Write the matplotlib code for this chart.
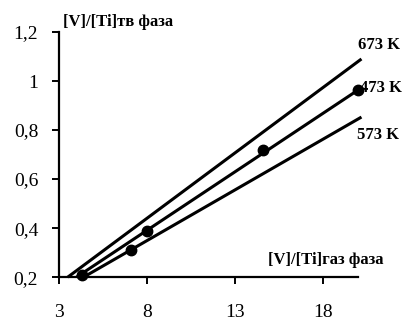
import matplotlib
matplotlib.use("Agg")
import matplotlib.pyplot as plt

# measured points (473 K)
pts_x = [4.3, 7.1, 8.0, 14.6, 20.0]
pts_y = [0.21, 0.31, 0.39, 0.72, 0.963]

# fitted straight lines for each temperature (end points)
line_673_x = [3.5, 20.2]
line_673_y = [0.20, 1.09]
line_473_x = [4.0, 20.0]
line_473_y = [0.20, 0.963]
line_573_x = [4.4, 20.2]
line_573_y = [0.20, 0.853]

labels = ["673 K", "473 K", "573 K"]
label_pos = [(20.0, 1.147), (20.12, 0.971), (19.95, 0.78)]

xticks = [3, 8, 13, 18]
yticks = [0.2, 0.4, 0.6, 0.8, 1.0, 1.2]
ytick_labels = ["0,2", "0,4", "0,6", "0,8", "1", "1,2"]

plt.rcParams["font.family"] = ["Liberation Serif", "DejaVu Serif"]

fig = plt.figure(figsize=(4.04, 3.2), dpi=100)
ax = fig.add_axes([0.146, 0.134, 0.74, 0.766])

for lx, ly in [(line_673_x, line_673_y), (line_473_x, line_473_y), (line_573_x, line_573_y)]:
    ax.plot(lx, ly, color="black", lw=2.2, clip_on=False, solid_capstyle="butt")

ax.plot(pts_x, pts_y, "o", color="black", ms=7.5, clip_on=False)

for t, (x, y) in zip(labels, label_pos):
    ax.text(x, y, t, fontsize=12, fontweight="bold", ha="left", va="center")

ax.set_xlim(3, 20)
ax.set_ylim(0.2, 1.2)
ax.set_xticks(xticks)
ax.set_xticklabels([str(v) for v in xticks])
ax.set_yticks(yticks)
ax.set_yticklabels(ytick_labels)

for s in ["top", "right"]:
    ax.spines[s].set_visible(False)
for s in ["left", "bottom"]:
    ax.spines[s].set_linewidth(1.6)

ax.tick_params(axis="both", direction="out", length=5, width=1.4, labelsize=14)
ax.tick_params(axis="y", pad=10)
ax.tick_params(axis="x", pad=14)

fig.text(0.156, 0.931, "[V]/[Ti]тв фаза", fontsize=12, fontweight="bold", ha="left", va="center")
fig.text(0.95, 0.1875, "[V]/[Ti]газ фаза", fontsize=12, fontweight="bold", ha="right", va="center")

fig.savefig("out.png", dpi=100)
